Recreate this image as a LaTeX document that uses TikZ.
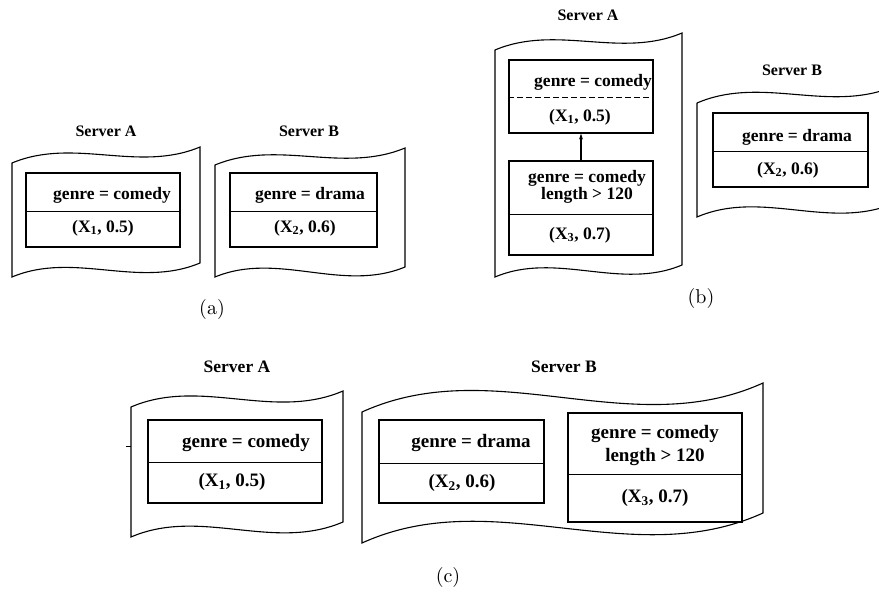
\documentclass[tikz,border=0pt]{standalone}
\usepackage{fontspec}
\usetikzlibrary{arrows.meta}
\newfontfamily\tnr{Liberation Serif}
\newcommand\docshape[7]{%
  \draw[wavy] (#1,#3) .. controls ({#1+0.33*(#2-#1)},{#3-#7}) and ({#1+0.67*(#2-#1)},{#4+#7}) .. (#2,#4)
    -- (#2,#6) .. controls ({#1+0.67*(#2-#1)},{#6+#7}) and ({#1+0.33*(#2-#1)},{#5-#7}) .. (#1,#5) -- cycle;}
\newcommand\cellbox[7]{%
  \node[box, minimum width={#4-#2}, minimum height={#5-#3}] (#1) at ({(#2+#4)/2},{(#3+#5)/2}) {};
  \draw[divline,#7] ([yshift={#3-#6}]#1.north west) -- ([yshift={#3-#6}]#1.north east);}
\newcommand\capbig[1]{\scalebox{2}{\normalfont\normalsize #1}}
\begin{document}
\begin{tikzpicture}[x=1pt,y=-1pt,
  wavy/.style={line width=1.1pt},
  box/.style={draw, line width=1.2pt, inner sep=0pt},
  divline/.style={line width=1.1pt},
  txt/.style={inner sep=0pt, font={\tnr\bfseries\fontsize{17.5}{14}\selectfont}, align=center},
  txtc/.style={inner sep=0pt, font={\tnr\bfseries\fontsize{19}{23}\selectfont}, align=center},
  srv/.style={inner sep=0pt, font={\tnr\bfseries\fontsize{16}{18}\selectfont}},
  srvc/.style={inner sep=0pt, font={\tnr\bfseries\fontsize{17.5}{19}\selectfont}},
  captxt/.style={inner sep=0pt}]
\clip (0,0) rectangle (879,596);
\fill[white] (0,0) rectangle (879,596);

% ---------- (a) ----------
\node[srv] (aSA) at (106,131) {Server A};
\node[srv] (aSB) at (309,131) {Server B};
\docshape{12}{200}{163}{147}{277}{263}{26}
\docshape{215}{405}{165}{148}{277}{267}{26}
\cellbox{aA}{26}{173}{180}{247}{212}{}
\cellbox{aB}{230}{173}{377}{247}{212}{}
\node[txt] (aA1) at (112,195) {genre = comedy};
\node[txt] (aA2) at (103,228) {(X\textsubscript{1}, 0.5)};
\node[txt] (aB1) at (310,195) {genre = drama};
\node[txt] (aB2) at (305,228) {(X\textsubscript{2}, 0.6)};
\node[captxt] (capa) at (212,310) {\capbig{(a)}};

% ---------- (b) ----------
\node[srv] (bSA) at (588,15) {Server A};
\node[srv] (bSB) at (792,70) {Server B};
\docshape{495}{682}{50}{33}{277}{265}{26}
\draw[wavy] (697,103) .. controls ({697+0.33*198},{103-28}) and ({697+0.67*198},{86+28}) .. (895,86)
  (697,103) -- (697,217)
  .. controls ({697+0.33*198},{217-28}) and ({697+0.67*198},{203+28}) .. (895,203);
\cellbox{bA1}{509}{60}{653}{133}{98}{dashed, dash pattern=on 6pt off 3pt}
\cellbox{bA2}{509}{161}{653}{255}{215}{}
\cellbox{bB}{713}{113}{868}{187}{152}{}
\node[txt] (bA1a) at (593,82) {genre = comedy};
\node[txt] (bA1b) at (580,117) {(X\textsubscript{1}, 0.5)};
\node[txt] (bA2a) at (587,187) {genre = comedy\\length > 120};
\node[txt] (bA2b) at (580,235) {(X\textsubscript{3}, 0.7)};
\node[txt] (bBa) at (797,137) {genre = drama};
\node[txt] (bBb) at (788,170) {(X\textsubscript{2}, 0.6)};
\draw[line width=1.2pt, -{Stealth[length=6pt,width=4pt]}] (bA2.north) -- (bA1.south);
\node[captxt] (capb) at (701,299) {\capbig{(b)}};

% ---------- (c) ----------
\node[srvc] (cSA) at (237,367) {Server A};
\node[srvc] (cSB) at (564,367) {Server B};
\docshape{131}{343}{407}{391}{537}{522}{30}
\docshape{362}{763}{412}{383}{543}{513}{60}
\draw[line width=1pt] (126,446) -- (131,446);
\cellbox{cA}{148}{420}{322}{503}{463}{}
\cellbox{cB1}{379}{420}{544}{503}{464}{}
\cellbox{cB2}{568}{413}{742}{522}{475}{}
\node[txtc] (cA1) at (246,443) {genre = comedy};
\node[txtc] (cA2) at (232,482) {(X\textsubscript{1}, 0.5)};
\node[txtc] (cB11) at (471,443) {genre = drama};
\node[txtc] (cB12) at (462,483) {(X\textsubscript{2}, 0.6)};
\node[txtc] (cB21) at (655,446) {genre = comedy\\length > 120};
\node[txtc] (cB22) at (655,498) {(X\textsubscript{3}, 0.7)};
\node[captxt] (capc) at (448,577) {\capbig{(c)}};
\end{tikzpicture}
\end{document}
